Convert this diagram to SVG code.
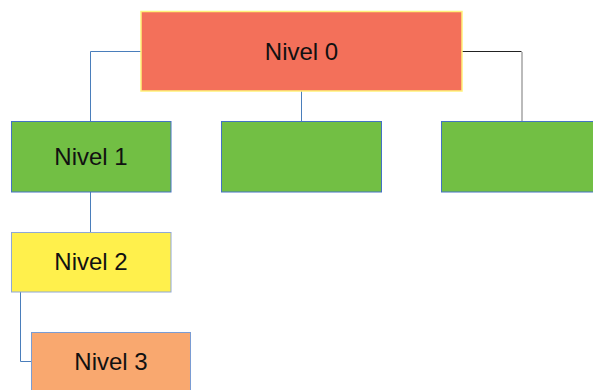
<svg xmlns="http://www.w3.org/2000/svg" width="593" height="390" viewBox="0 0 593 390">
<style>
.lbl{font-family:"Liberation Sans",Arial,sans-serif;font-size:24px;fill:#111;text-anchor:middle}
.bx{stroke:#4472C4;stroke-width:1}
.c{fill:none;stroke:#4A7EBB;stroke-width:1}
</style>
<rect width="593" height="390" fill="#fff"/>
<g id="connectors">
<path class="c" d="M141 51.5H90.5V121"/>
<path class="c" d="M301.5 91V121"/>
<path d="M462 51.5H521.5" fill="none" stroke="#222" stroke-width="1"/>
<path d="M522 52V121" fill="none" stroke="#bbb" stroke-width="2"/>
<path class="c" d="M90.5 192V232"/>
<path class="c" d="M20.5 292V361.5H31" stroke="#7A9CD3"/>
</g>
<g id="n0">
<rect x="141" y="11.5" width="321" height="79.5" fill="#F3705A" stroke="#FFF27A" stroke-width="1.5"/>
<text class="lbl" x="301.5" y="59.5">Nivel 0</text>
</g>
<g id="n1">
<rect class="bx" x="11.5" y="121.5" width="159.5" height="70.5" fill="#72BF44"/>
<text class="lbl" x="91" y="164.5">Nivel 1</text>
</g>
<g id="n1b">
<rect class="bx" x="221.5" y="121.5" width="160" height="70.5" fill="#72BF44"/>
</g>
<g id="n1c">
<rect class="bx" x="441.5" y="121.5" width="160" height="70.5" fill="#72BF44"/>
</g>
<g id="n2">
<rect x="11.5" y="232.5" width="159.5" height="59.5" fill="#FFF04C" stroke="#8FA8D6" stroke-width="1"/>
<text class="lbl" x="91" y="270">Nivel 2</text>
</g>
<g id="n3">
<rect x="31.5" y="332.5" width="159" height="70" fill="#F9A86F" stroke="#7A9CD3" stroke-width="1"/>
<text class="lbl" x="111" y="370">Nivel 3</text>
</g>
</svg>
